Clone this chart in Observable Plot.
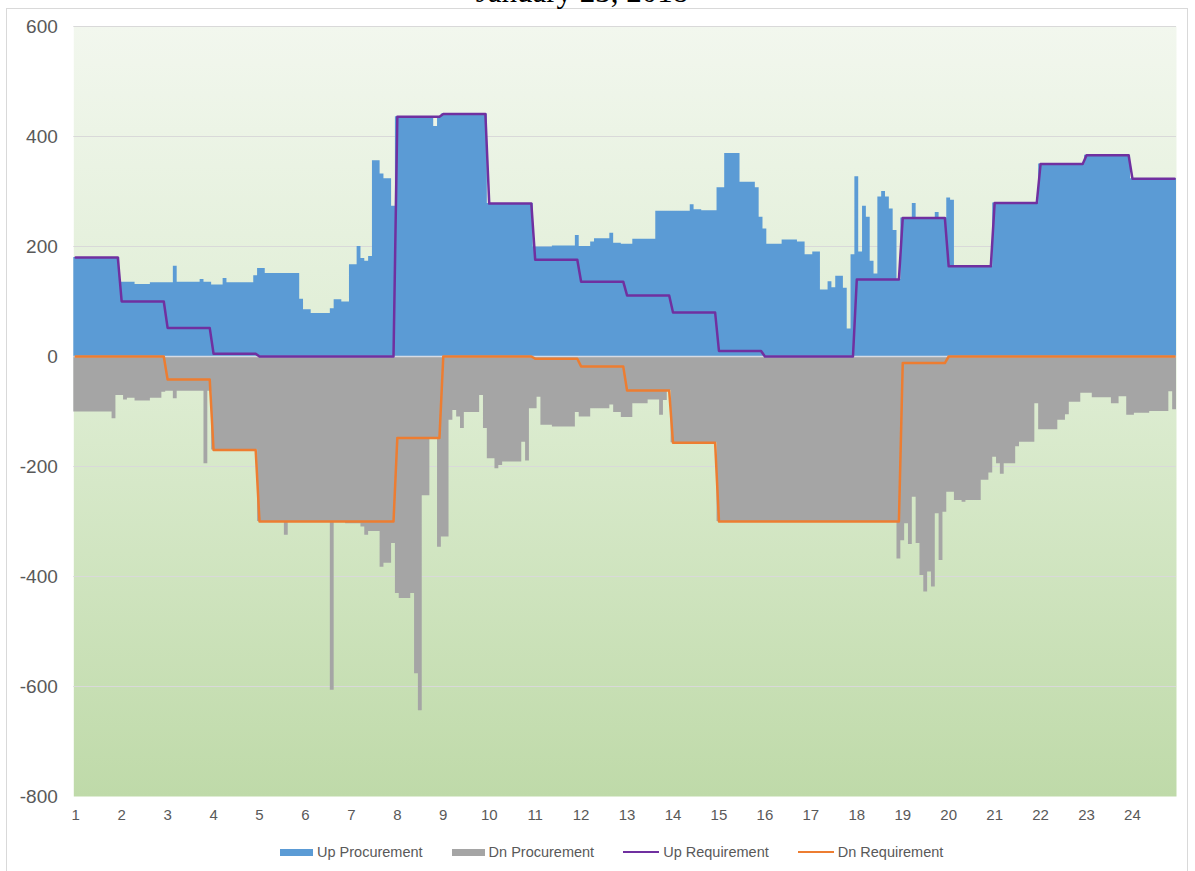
<!DOCTYPE html>
<html>
<head>
<meta charset="utf-8">
<script src="https://cdn.jsdelivr.net/npm/d3@7"></script>
<script src="https://cdn.jsdelivr.net/npm/@observablehq/plot@0.6"></script>
<style>
  body { margin: 0; background: #fff; font-family: "Liberation Sans", Arial, sans-serif; }
  #wrap { position: relative; width: 1195px; height: 871px; overflow: hidden; }
  #border { position: absolute; left: 6px; top: 8px; width: 1182px; height: 900px; border: 1px solid #d9d9d9; box-sizing: border-box; }
  #title { position: absolute; left: 0; width: 1164px; top: -24px; text-align: center; font-family: "Liberation Serif", "Times New Roman", serif; font-size: 31px; line-height: 31px; color: #000; white-space: nowrap; }
  #chart { position: absolute; left: 0; top: 0; }
  #legend { position: absolute; left: 280px; top: 843px; height: 18px; display: flex; align-items: center; gap: 29px; font-size: 14.5px; color: #595959; white-space: nowrap; }
  .item { display: flex; align-items: center; gap: 4px; }
  .box { width: 33px; height: 7px; }
  .ln { width: 36px; height: 2.5px; }
</style>
</head>
<body>
<div id="wrap">
  <div id="border"></div>
  <div id="chart"></div>
  <div id="title">January 23, 2018</div>
  <div id="legend"></div>
</div>
<script>
// Hours shown on the category axis
const hours = d3.range(1, 25);
const yTicks = [-800, -600, -400, -200, 0, 200, 400, 600];

// Procurement: [first 5-minute interval index (0..287), MW value] — value holds until next entry
const upProcurement = [
  [0,180],[12,135],[16,131],[20,134],[26,164],[27,135],[33,140],[34,135],[36,130],[39,142],[40,134],
  [47,147],[48,160],[50,151],[59,104],[60,85],[62,78],[67,87],[68,103],[70,99],[72,167],[74,200],
  [75,178],[76,173],[77,182],[78,356],[80,332],[81,323],[83,273],
  [84,436],[94,418],[95,436],[96,441],[108,278],
  [120,199],[125,201],[131,220],[132,200],[135,208],[136,214],[140,224],[141,206],[143,204],[146,213],
  [152,264],[161,276],[162,267],[164,265],[168,307],[170,369],[174,317],[178,307],[179,253],[180,232],
  [181,204],[185,212],[189,208],[191,185],[193,190],[195,121],[197,136],[198,125],[199,146],[201,124],
  [202,50],[203,185],[204,327],[205,190],[206,273],[207,253],[208,173],[209,150],[210,290],[211,300],
  [212,290],[213,268],[214,229],[215,140],
  [216,252],[219,278],[220,252],[225,262],[226,252],[228,288],[229,284],[230,164],[240,279],
  [252,350],[264,366],[276,323]
];
const dnProcurement = [
  [0,-101],[10,-113],[11,-71],[13,-79],[14,-76],[16,-81],[20,-76],[23,-65],[24,-63],[26,-77],[27,-63],
  [34,-195],[35,-63],[36,-170],[48,-300],[55,-325],[56,-300],[67,-607],[68,-300],[71,-304],[75,-310],
  [76,-325],[77,-318],[80,-383],[81,-376],[83,-340],
  [84,-431],[85,-440],[88,-431],[89,-577],[90,-644],[91,-253],[93,-150],[95,-347],[96,-328],[98,-116],
  [99,-98],[100,-110],[101,-131],[102,-102],[106,-71],[107,-131],[108,-186],[110,-204],[111,-198],
  [112,-192],[117,-156],[118,-190],[119,-95],[121,-74],[122,-125],[125,-128],[131,-102],[132,-110],
  [135,-95],[140,-88],[141,-102],[143,-111],[146,-86],[150,-79],[153,-107],[154,-80],[155,-62],
  [156,-157],[168,-300],
  [215,-368],[216,-335],[217,-304],[218,-342],[219,-256],[220,-340],[221,-398],[222,-428],[223,-392],
  [224,-419],[225,-286],[226,-371],[227,-283],[228,-247],[230,-262],[232,-265],[233,-262],[237,-225],
  [239,-212],[240,-183],[241,-195],[242,-214],[243,-195],[246,-164],[247,-156],[251,-86],[252,-133],
  [257,-116],[259,-106],[260,-83],[263,-67],[266,-75],[271,-86],[273,-73],[275,-107],[277,-103],
  [281,-100],[286,-64],[287,-97]
];

// Hourly requirements (hour 1..24)
const upRequirement = [180,100,52,5,0,0,0,436,441,278,176,136,111,80,10,0,0,140,252,164,279,350,366,323];
const dnRequirement = [0,0,-42,-170,-300,-300,-300,-148,0,0,-4,-18,-62,-157,-300,-300,-300,-300,-12,0,0,0,0,0];

const COLORS = { up: "#5b9bd5", dn: "#a5a5a5", upReq: "#7030a0", dnReq: "#ed7d31" };

const N = 288;
const edge = i => 1 + i / 12 - 1 / 24;           // left edge of interval i, in hours
function stepPoints(pairs) {
  const pts = pairs.map(([i, v]) => ({ x: edge(i), y: v }));
  pts.push({ x: edge(N), y: pairs[pairs.length - 1][1] });
  return pts;
}
function reqPoints(vals) {
  const pts = [];
  vals.forEach((v, k) => {
    const h = k + 1;
    pts.push({ x: h, y: v }, { x: h + 11 / 12, y: v });
  });
  return pts;
}

const chart = Plot.plot({
  width: 1195,
  height: 836,
  marginLeft: 73.3,
  marginRight: 19,
  marginTop: 26,
  marginBottom: 40,
  style: { fontFamily: "'Liberation Sans', Arial, sans-serif", color: "#595959", background: "transparent" },
  x: { domain: [edge(0), edge(N)] },
  y: { domain: [-800, 600] },
  marks: [
    Plot.frame({ fill: "url(#bg)", stroke: "none" }),
    Plot.ruleY(yTicks.filter(d => d !== 0 && d !== -800), { stroke: "#d9d9d9", strokeWidth: 1 }),
    Plot.areaY(stepPoints(upProcurement), { x: "x", y: "y", curve: "step-after", fill: COLORS.up }),
    Plot.areaY(stepPoints(dnProcurement), { x: "x", y: "y", curve: "step-after", fill: COLORS.dn }),
    Plot.ruleY([0], { stroke: "#d6dbe4", strokeWidth: 1.5 }),
    Plot.line(reqPoints(upRequirement), { x: "x", y: "y", stroke: COLORS.upReq, strokeWidth: 2.5, strokeLinejoin: "round" }),
    Plot.line(reqPoints(dnRequirement), { x: "x", y: "y", stroke: COLORS.dnReq, strokeWidth: 2.5, strokeLinejoin: "round" }),
    Plot.axisX(hours, { tickSize: 0, tickPadding: 13, fontSize: 15, label: null, tickFormat: d => String(d) }),
    Plot.axisY(yTicks, { tickSize: 0, tickPadding: 16, fontSize: 19, label: null, tickFormat: d => String(d) })
  ]
});

const ns = "http://www.w3.org/2000/svg";
const defs = document.createElementNS(ns, "defs");
defs.innerHTML = `<linearGradient id="bg" x1="0" y1="0" x2="0" y2="1">
  <stop offset="0" stop-color="#f2f7ee"/>
  <stop offset="0.45" stop-color="#deedd3"/>
  <stop offset="1" stop-color="#bfdaa9"/>
</linearGradient>`;
chart.prepend(defs);
document.getElementById("chart").appendChild(chart);

const legendItems = [
  { label: "Up Procurement", color: COLORS.up, type: "box" },
  { label: "Dn Procurement", color: COLORS.dn, type: "box" },
  { label: "Up Requirement", color: COLORS.upReq, type: "ln" },
  { label: "Dn Requirement", color: COLORS.dnReq, type: "ln" }
];
const legend = document.getElementById("legend");
for (const it of legendItems) {
  const d = document.createElement("div");
  d.className = "item";
  const s = document.createElement("span");
  s.className = it.type;
  s.style.background = it.color;
  const t = document.createElement("span");
  t.textContent = it.label;
  d.appendChild(s); d.appendChild(t);
  legend.appendChild(d);
}
</script>
</body>
</html>
